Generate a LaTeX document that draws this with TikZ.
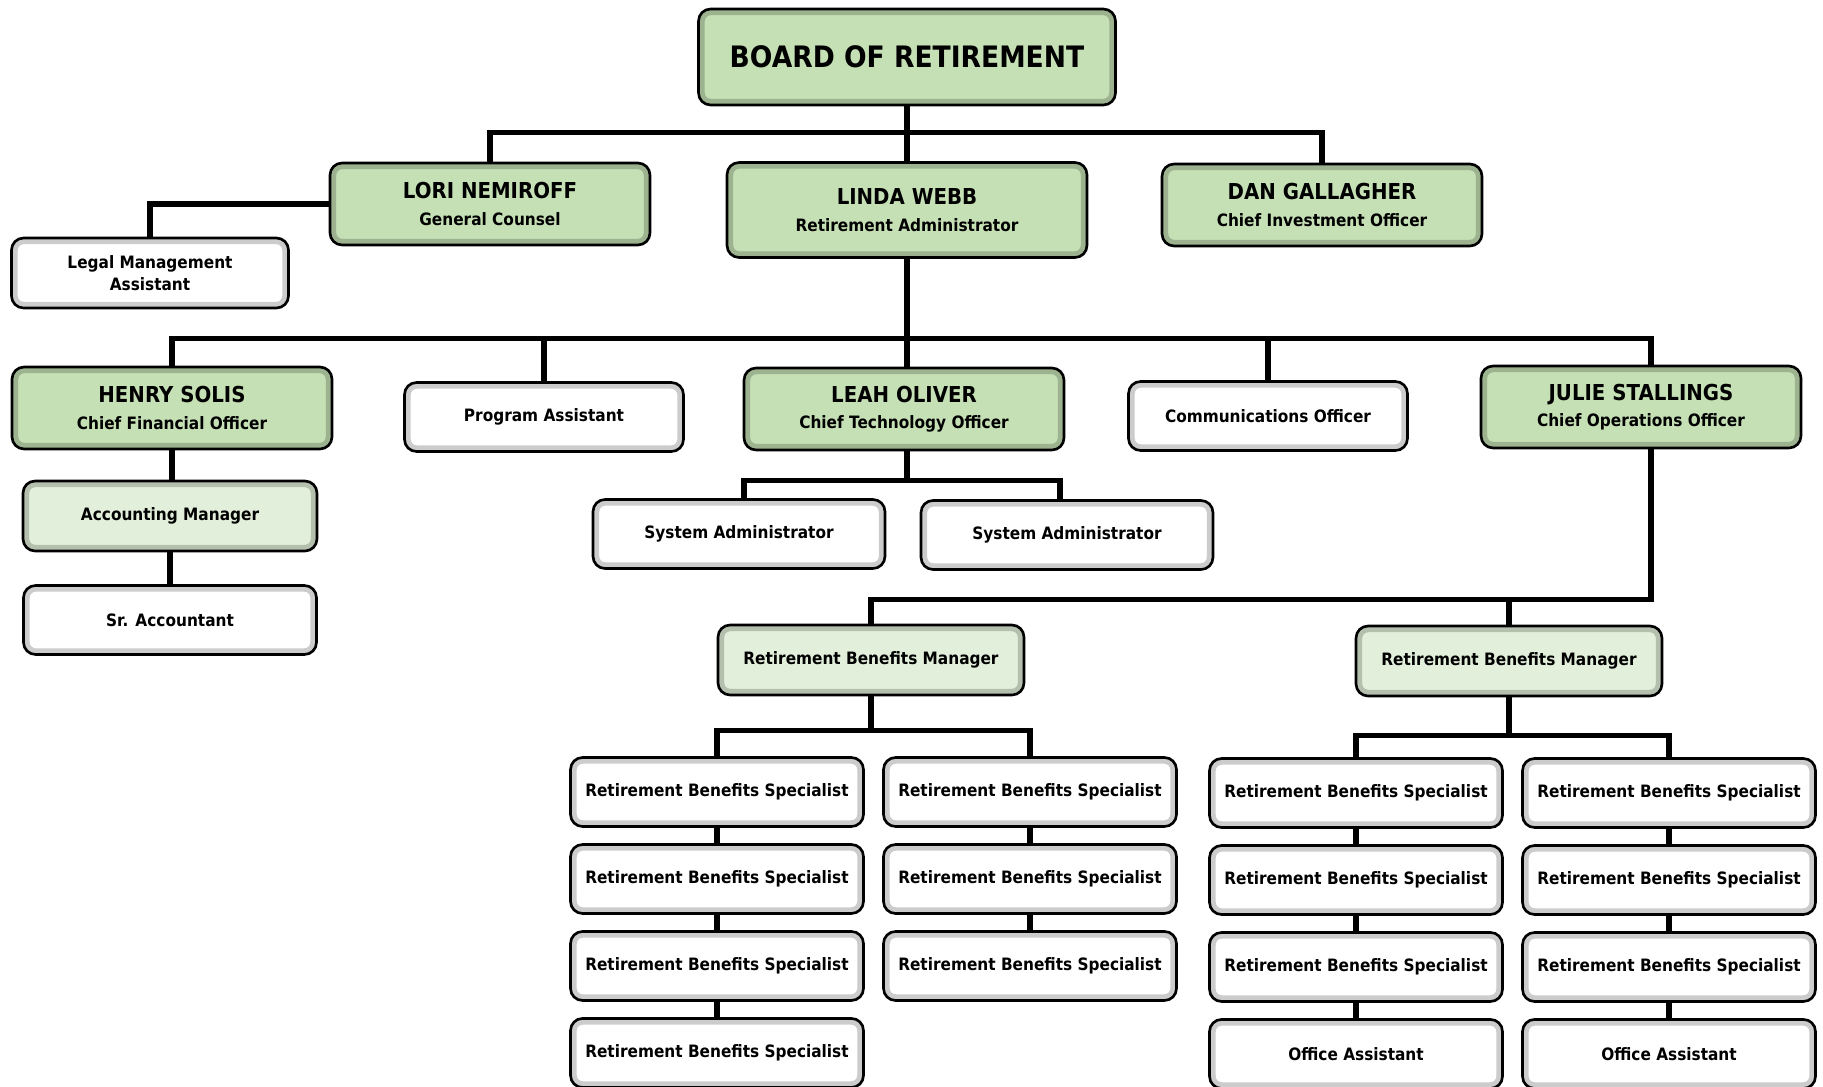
\documentclass[tikz,border=0pt]{standalone}
\usepackage{fontspec}
\setmainfont{DejaVu Sans}[FakeStretch=0.9]
\usetikzlibrary{positioning}
\definecolor{headgreen}{HTML}{C5E0B4}
\definecolor{mgrgreen}{HTML}{E2EFDA}
\newcommand{\headtext}[2]{{\fontsize{12.5}{15}\selectfont #1}\\[2.5pt]#2}

\begin{document}
\begin{tikzpicture}[x=0.02cm,y=-0.02cm,on grid,node distance=1.74cm]
    \tikzstyle{box}=[shape=rectangle,draw,line width=1.5pt,rounded corners=0.24cm,align=center,inner sep=2pt,
        font=\fontsize{9.7}{12.5}\selectfont\bfseries,
        path picture={\draw[black,opacity=0.2,line width=7pt] (path picture bounding box.south west) rectangle (path picture bounding box.north east);}]
    \tikzstyle{head}=[box,fill=headgreen,minimum width=6.4cm,minimum height=1.64cm]
    \tikzstyle{manager}=[box,fill=mgrgreen,minimum width=6.12cm,minimum height=1.4cm]
    \tikzstyle{staff}=[box,fill=white,minimum width=5.86cm,minimum height=1.38cm]
    \tikzstyle{link}=[draw,line width=3pt]

    \useasboundingbox (0,0) rectangle (1823,1086);

    \node[box,fill=headgreen,minimum width=8.34cm,minimum height=1.92cm,font=\fontsize{16.8}{20}\selectfont\bfseries] (board) at (907,57) {BOARD OF RETIREMENT};
    \node[head,minimum width=7.2cm,minimum height=1.9cm] (linda) at (907,210) {\headtext{LINDA WEBB}{Retirement Administrator}};
    \node[head] (lori) at (490,204) {\headtext{LORI NEMIROFF}{General Counsel}};
    \node[head] (dan) at (1322,205) {\headtext{DAN GALLAGHER}{Chief Investment Officer}};
    \node[staff,minimum width=5.54cm,minimum height=1.4cm] (legal) at (150,273) {Legal Management\\Assistant};

    \node[head] (henry) at (172,408) {\headtext{HENRY SOLIS}{Chief Financial Officer}};
    \node[staff,minimum width=5.58cm] (program) at (544,417) {Program Assistant};
    \node[head] (leah) at (904,409) {\headtext{LEAH OLIVER}{Chief Technology Officer}};
    \node[staff,minimum width=5.58cm] (comm) at (1268,416) {Communications Officer};
    \node[head] (julie) at (1641,407) {\headtext{JULIE STALLINGS}{Chief Operations Officer}};

    \node[manager,minimum width=5.88cm] (acctmgr) at (170,516) {Accounting Manager};
    \node[staff,below=2.08cm of acctmgr] (sracct) {Sr. Accountant};

    \node[staff,minimum width=5.84cm] (sysadmA) at (739,534) {System Administrator};
    \node[staff,minimum width=5.84cm] (sysadmB) at (1067,535) {System Administrator};

    \node[manager] (rbmA) at (871,660) {Retirement Benefits Manager};
    \node[manager] (rbmB) at (1509,661) {Retirement Benefits Manager};

    % specialists under the first manager
    \node[staff] (rbsA1) at (717,792) {Retirement Benefits Specialist};
    \node[staff,below of=rbsA1] (rbsA2) {Retirement Benefits Specialist};
    \node[staff,below of=rbsA2] (rbsA3) {Retirement Benefits Specialist};
    \node[staff,below of=rbsA3] (rbsA4) {Retirement Benefits Specialist};
    \node[staff] (rbsB1) at (1030,792) {Retirement Benefits Specialist};
    \node[staff,below of=rbsB1] (rbsB2) {Retirement Benefits Specialist};
    \node[staff,below of=rbsB2] (rbsB3) {Retirement Benefits Specialist};

    % specialists under the second manager
    \node[staff] (rbsC1) at (1356,793) {Retirement Benefits Specialist};
    \node[staff,below of=rbsC1] (rbsC2) {Retirement Benefits Specialist};
    \node[staff,below of=rbsC2] (rbsC3) {Retirement Benefits Specialist};
    \node[staff,below of=rbsC3] (officeC) {Office Assistant};
    \node[staff] (rbsD1) at (1669,793) {Retirement Benefits Specialist};
    \node[staff,below of=rbsD1] (rbsD2) {Retirement Benefits Specialist};
    \node[staff,below of=rbsD2] (rbsD3) {Retirement Benefits Specialist};
    \node[staff,below of=rbsD3] (officeD) {Office Assistant};

    \path[link]
    (board) -- (linda)
    (board.south) -- ++(0,26) -| (lori.north)
    (board.south) -- ++(0,26) -| (dan.north)
    (lori.west) -| (legal.north)

    (linda.south) -- ++(0,80) -| (henry.north)
    (linda.south) -- ++(0,80) -| (program.north)
    (linda.south) -- ++(0,80) -| (comm.north)
    (linda.south) -- ++(0,80) -| ([xshift=0.2cm]julie.north)
    (linda.south) -- ++(0,80) -| ([xshift=0.06cm]leah.north)

    (henry.south) -- (henry.south |- acctmgr.north)
    (acctmgr) -- (sracct)

    ([xshift=0.06cm]leah.south) -- ++(0,29) -| ([xshift=0.1cm]sysadmA.north)
    ([xshift=0.06cm]leah.south) -- ++(0,29) -| ([xshift=-0.14cm]sysadmB.north)

    ([xshift=0.2cm]julie.south) -- ++(0,150) -| (rbmA.north)
    ([xshift=0.2cm]julie.south) -- ++(0,150) -| (rbmB.north)

    (rbmA.south) -- ++(0,34) -| (rbsA1.north)
    (rbmA.south) -- ++(0,34) -| (rbsB1.north)
    (rbsA1) -- (rbsA2)
    (rbsA2) -- (rbsA3)
    (rbsA3) -- (rbsA4)
    (rbsB1) -- (rbsB2)
    (rbsB2) -- (rbsB3)

    (rbmB.south) -- ++(0,38) -| (rbsC1.north)
    (rbmB.south) -- ++(0,38) -| (rbsD1.north)
    (rbsC1) -- (rbsC2)
    (rbsC2) -- (rbsC3)
    (rbsC3) -- (officeC)
    (rbsD1) -- (rbsD2)
    (rbsD2) -- (rbsD3)
    (rbsD3) -- (officeD)
    ;

\end{tikzpicture}
\end{document}
